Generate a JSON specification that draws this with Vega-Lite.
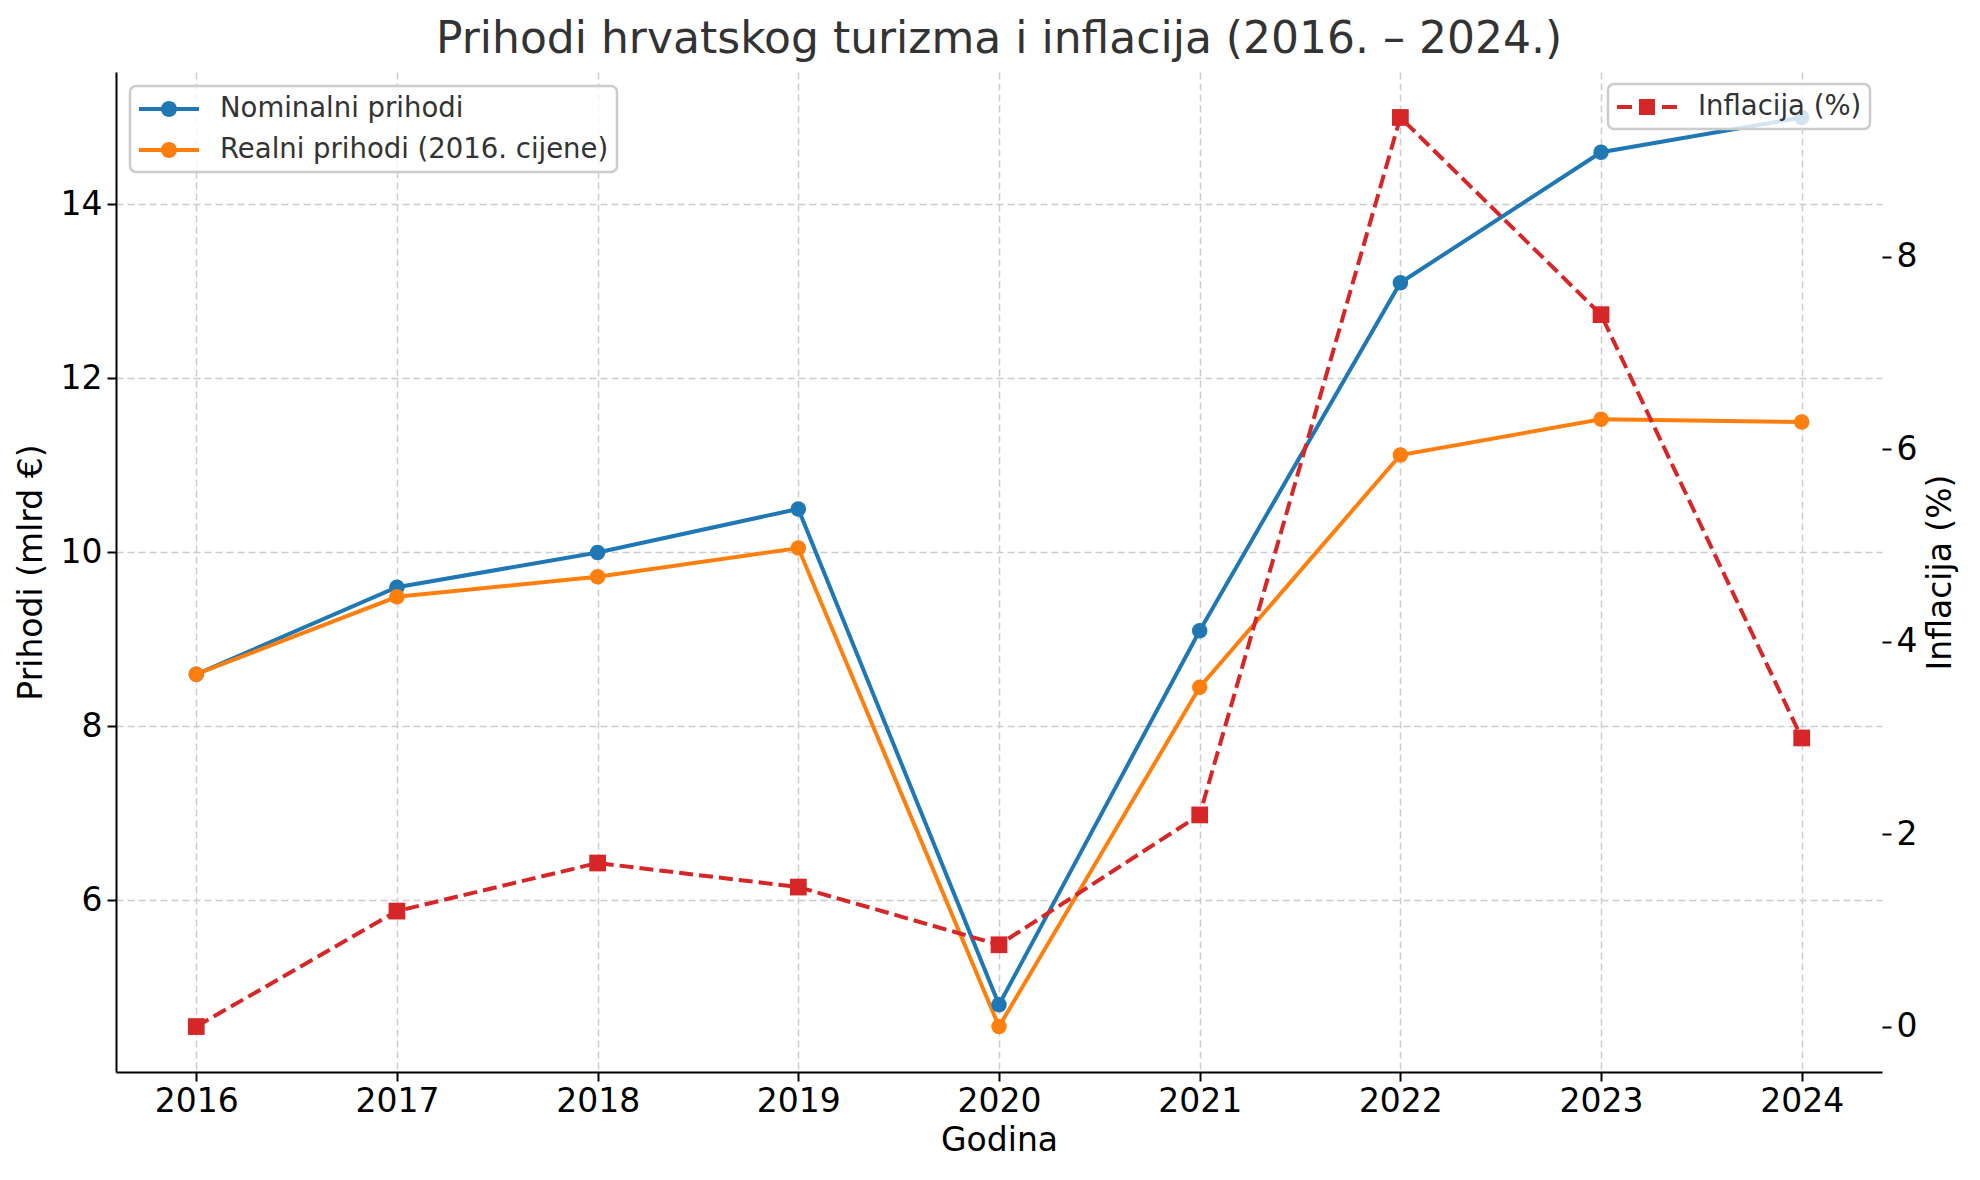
{
  "$schema": "https://vega.github.io/schema/vega-lite/v6.json",
  "width": 1766,
  "height": 1000,
  "autosize": {"type": "none"},
  "padding": {"left": 116, "top": 72, "right": 98, "bottom": 108},
  "title": {
    "text": "Prihodi hrvatskog turizma i inflacija (2016. – 2024.)",
    "fontSize": 44,
    "fontWeight": "normal",
    "color": "#333333",
    "offset": 10,
    "anchor": "middle"
  },
  "config": {
    "font": "DejaVu Sans",
    "view": {"stroke": null},
    "axis": {
      "grid": true,
      "gridColor": "#cccccc",
      "gridDash": [7, 4],
      "gridWidth": 1.5,
      "domainColor": "#000000",
      "domainWidth": 2,
      "tickColor": "#000000",
      "tickWidth": 2,
      "tickSize": 9,
      "labelFontSize": 33,
      "labelColor": "#000000",
      "labelPadding": 5,
      "titleFontSize": 33,
      "titleFontWeight": "normal",
      "titleColor": "#000000"
    },
    "legend": {
      "title": null,
      "fillColor": "rgba(255,255,255,0.8)",
      "strokeColor": "#cccccc",
      "strokeWidth": 2.5,
      "cornerRadius": 6,
      "padding": 8,
      "labelFontSize": 27.5,
      "labelColor": "#333333",
      "labelLimit": 0,
      "symbolSize": 900,
      "symbolOpacity": 1,
      "symbolStrokeWidth": 0,
      "symbolOffset": 16,
      "labelOffset": 36,
      "rowPadding": 12
    }
  },
  "datasets": {
    "prihodi": [
      {"godina": 2016, "serija": "Nominalni prihodi", "vrijednost": 8.6},
      {"godina": 2017, "serija": "Nominalni prihodi", "vrijednost": 9.6},
      {"godina": 2018, "serija": "Nominalni prihodi", "vrijednost": 10.0},
      {"godina": 2019, "serija": "Nominalni prihodi", "vrijednost": 10.5},
      {"godina": 2020, "serija": "Nominalni prihodi", "vrijednost": 4.8},
      {"godina": 2021, "serija": "Nominalni prihodi", "vrijednost": 9.1},
      {"godina": 2022, "serija": "Nominalni prihodi", "vrijednost": 13.1},
      {"godina": 2023, "serija": "Nominalni prihodi", "vrijednost": 14.6},
      {"godina": 2024, "serija": "Nominalni prihodi", "vrijednost": 15.0},
      {"godina": 2016, "serija": "Realni prihodi (2016. cijene)", "vrijednost": 8.6},
      {"godina": 2017, "serija": "Realni prihodi (2016. cijene)", "vrijednost": 9.49},
      {"godina": 2018, "serija": "Realni prihodi (2016. cijene)", "vrijednost": 9.72},
      {"godina": 2019, "serija": "Realni prihodi (2016. cijene)", "vrijednost": 10.05},
      {"godina": 2020, "serija": "Realni prihodi (2016. cijene)", "vrijednost": 4.55},
      {"godina": 2021, "serija": "Realni prihodi (2016. cijene)", "vrijednost": 8.45},
      {"godina": 2022, "serija": "Realni prihodi (2016. cijene)", "vrijednost": 11.12},
      {"godina": 2023, "serija": "Realni prihodi (2016. cijene)", "vrijednost": 11.53},
      {"godina": 2024, "serija": "Realni prihodi (2016. cijene)", "vrijednost": 11.5}
    ],
    "inflacija": [
      {"godina": 2016, "serija": "Inflacija (%)", "inflacija": 0.0},
      {"godina": 2017, "serija": "Inflacija (%)", "inflacija": 1.2},
      {"godina": 2018, "serija": "Inflacija (%)", "inflacija": 1.7},
      {"godina": 2019, "serija": "Inflacija (%)", "inflacija": 1.45},
      {"godina": 2020, "serija": "Inflacija (%)", "inflacija": 0.85},
      {"godina": 2021, "serija": "Inflacija (%)", "inflacija": 2.2},
      {"godina": 2022, "serija": "Inflacija (%)", "inflacija": 9.45},
      {"godina": 2023, "serija": "Inflacija (%)", "inflacija": 7.4},
      {"godina": 2024, "serija": "Inflacija (%)", "inflacija": 3.0}
    ]
  },
  "encoding": {
    "x": {
      "field": "godina",
      "type": "quantitative",
      "title": "Godina",
      "scale": {"domain": [2015.6, 2024.4], "nice": false, "zero": false},
      "axis": {
        "values": [2016, 2017, 2018, 2019, 2020, 2021, 2022, 2023, 2024],
        "format": "d",
        "labelPadding": 4,
        "titlePadding": 6
      }
    }
  },
  "layer": [
    {
      "data": {"name": "prihodi"},
      "encoding": {
        "y": {
          "field": "vrijednost",
          "type": "quantitative",
          "title": "Prihodi (mlrd €)",
          "scale": {"domain": [4.0275, 15.5225], "nice": false, "zero": false},
          "axis": {"orient": "left", "values": [6, 8, 10, 12, 14], "titlePadding": 12}
        },
        "color": {
          "field": "serija",
          "type": "nominal",
          "scale": {
            "domain": ["Nominalni prihodi", "Realni prihodi (2016. cijene)"],
            "range": ["#1f77b4", "#ff7f0e"]
          },
          "legend": {
            "orient": "top-left",
            "offset": 14,
            "symbolType": "M-2,-0.133H2V0.133H-2Z M0.533,0A0.533,0.533 0 1,1 -0.533,0A0.533,0.533 0 1,1 0.533,0Z"
          }
        }
      },
      "layer": [
        {"mark": {"type": "line", "strokeWidth": 4}},
        {"mark": {"type": "point", "shape": "circle", "filled": true, "size": 240, "opacity": 1}}
      ]
    },
    {
      "data": {"name": "inflacija"},
      "encoding": {
        "y": {
          "field": "inflacija",
          "type": "quantitative",
          "title": "Inflacija (%)",
          "scale": {"domain": [-0.4725, 9.9225], "nice": false, "zero": false},
          "axis": {
            "orient": "right",
            "values": [0, 2, 4, 6, 8],
            "domain": false,
            "titleAngle": 270,
            "titleBaseline": "top",
            "titlePadding": 8
          }
        },
        "color": {
          "field": "serija",
          "type": "nominal",
          "scale": {"domain": ["Inflacija (%)"], "range": ["#d62728"]},
          "legend": {
            "orient": "top-right",
            "offset": 12,
            "symbolType": "M-2,-0.133H-1V0.133H-2Z M1,-0.133H2V0.133H1Z M-0.533,-0.533H0.533V0.533H-0.533Z"
          }
        }
      },
      "layer": [
        {"mark": {"type": "line", "strokeWidth": 4, "strokeDash": [14, 6]}},
        {"mark": {"type": "point", "shape": "square", "filled": true, "size": 280, "opacity": 1}}
      ]
    }
  ],
  "resolve": {"scale": {"y": "independent", "color": "independent"}}
}
